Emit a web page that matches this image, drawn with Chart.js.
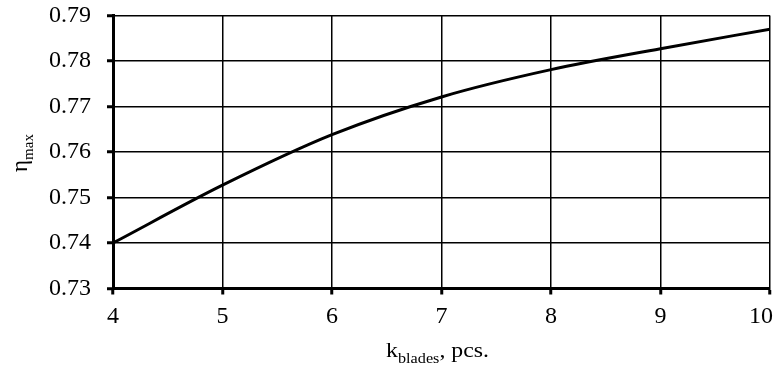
<!DOCTYPE html>
<html>
<head>
<meta charset="utf-8">
<script src="https://cdn.jsdelivr.net/npm/chart.js@4/dist/chart.umd.min.js"></script>
<style>
  html, body { margin: 0; padding: 0; background: #fff; }
  #wrap { width: 783px; height: 372px; }
</style>
</head>
<body>
<div id="wrap"><canvas id="effChart"></canvas></div>
<script>
// Blade count vs. maximum efficiency
const bladeCounts = [4, 5, 6, 7, 8, 9, 10];
const etaMax = [0.740, 0.7527, 0.7638, 0.7721, 0.7781, 0.7827, 0.787];
const yTicks = [0.73, 0.74, 0.75, 0.76, 0.77, 0.78, 0.79];

const FONT = '"Liberation Serif", "Times New Roman", serif';
const TICK_SIZE = 24;

// Draw text with a subscript part: [base, sub, rest]
function drawSubText(ctx, parts, x, y, size, subRatio) {
  const subSize = Math.round(size * subRatio);
  ctx.font = `${size}px ${FONT}`;
  const w0 = ctx.measureText(parts[0]).width;
  const w2 = ctx.measureText(parts[2] || '').width;
  ctx.font = `${subSize}px ${FONT}`;
  const w1 = ctx.measureText(parts[1]).width;
  let cx = x - (w0 + w1 + w2) / 2;
  ctx.textAlign = 'left';
  ctx.textBaseline = 'alphabetic';
  ctx.font = `${size}px ${FONT}`;
  ctx.fillText(parts[0], cx, y);
  cx += w0;
  ctx.font = `${subSize}px ${FONT}`;
  ctx.fillText(parts[1], cx, y + size * 0.25);
  cx += w1;
  if (parts[2]) {
    ctx.font = `${size}px ${FONT}`;
    ctx.fillText(parts[2], cx, y);
  }
}

const axisTitles = {
  id: 'axisTitles',
  afterDraw(chart) {
    const { ctx, chartArea } = chart;
    ctx.save();
    ctx.fillStyle = '#000';
    ctx.translate((chartArea.left + chartArea.right) / 2 - 4, 357);
    ctx.scale(1.08, 1);
    drawSubText(ctx, ['k', 'blades', ', pcs.'], 0, 0, 22, 0.7);
    ctx.restore();

    ctx.save();
    ctx.fillStyle = '#000';
    ctx.translate(27, (chartArea.top + chartArea.bottom) / 2 + 1);
    ctx.rotate(-Math.PI / 2);
    drawSubText(ctx, ['η', 'max', ''], 0, 0, 23, 0.66);
    ctx.restore();
  }
};

// keep tick labels from shrinking the plot area
function noLabelPadding(scale) {
  scale.paddingTop = 0;
  scale.paddingBottom = 0;
  scale.paddingLeft = 0;
  scale.paddingRight = 0;
}

new Chart(document.getElementById('effChart'), {
  type: 'line',
  data: {
    datasets: [{
      data: bladeCounts.map((k, i) => ({ x: k, y: etaMax[i] })),
      borderColor: '#000',
      borderWidth: 3,
      pointRadius: 0,
      cubicInterpolationMode: 'monotone',
      fill: false
    }]
  },
  options: {
    responsive: true,
    maintainAspectRatio: false,
    animation: false,
    layout: { padding: { top: 15.5, right: 13, left: 0, bottom: 0 } },
    plugins: { legend: { display: false }, tooltip: { enabled: false } },
    scales: {
      x: {
        type: 'linear',
        min: 4,
        max: 10,
        afterFit(scale) { scale.height = 83.5; noLabelPadding(scale); },
        afterBuildTicks(scale) { scale.ticks = bladeCounts.map(v => ({ value: v })); },
        ticks: {
          color: '#000',
          font: { family: FONT, size: TICK_SIZE },
          padding: 8,
          maxRotation: 0,
          // last label sits pulled in from the right edge
          callback: v => (v === 10 ? '10   ' : String(v))
        },
        grid: { color: '#000', lineWidth: 1.5, tickLength: 6, tickWidth: 3, tickColor: '#000' },
        border: { color: '#000', width: 3 }
      },
      y: {
        min: 0.73,
        max: 0.79,
        afterFit(scale) { scale.width = 113; noLabelPadding(scale); },
        afterBuildTicks(scale) { scale.ticks = yTicks.map(v => ({ value: v })); },
        ticks: {
          color: '#000',
          font: { family: FONT, size: TICK_SIZE },
          padding: 16,
          callback: v => v.toFixed(2)
        },
        grid: { color: '#000', lineWidth: 1.5, tickLength: 6, tickWidth: 3, tickColor: '#000' },
        border: { color: '#000', width: 3 }
      }
    }
  },
  plugins: [axisTitles]
});
</script>
</body>
</html>
